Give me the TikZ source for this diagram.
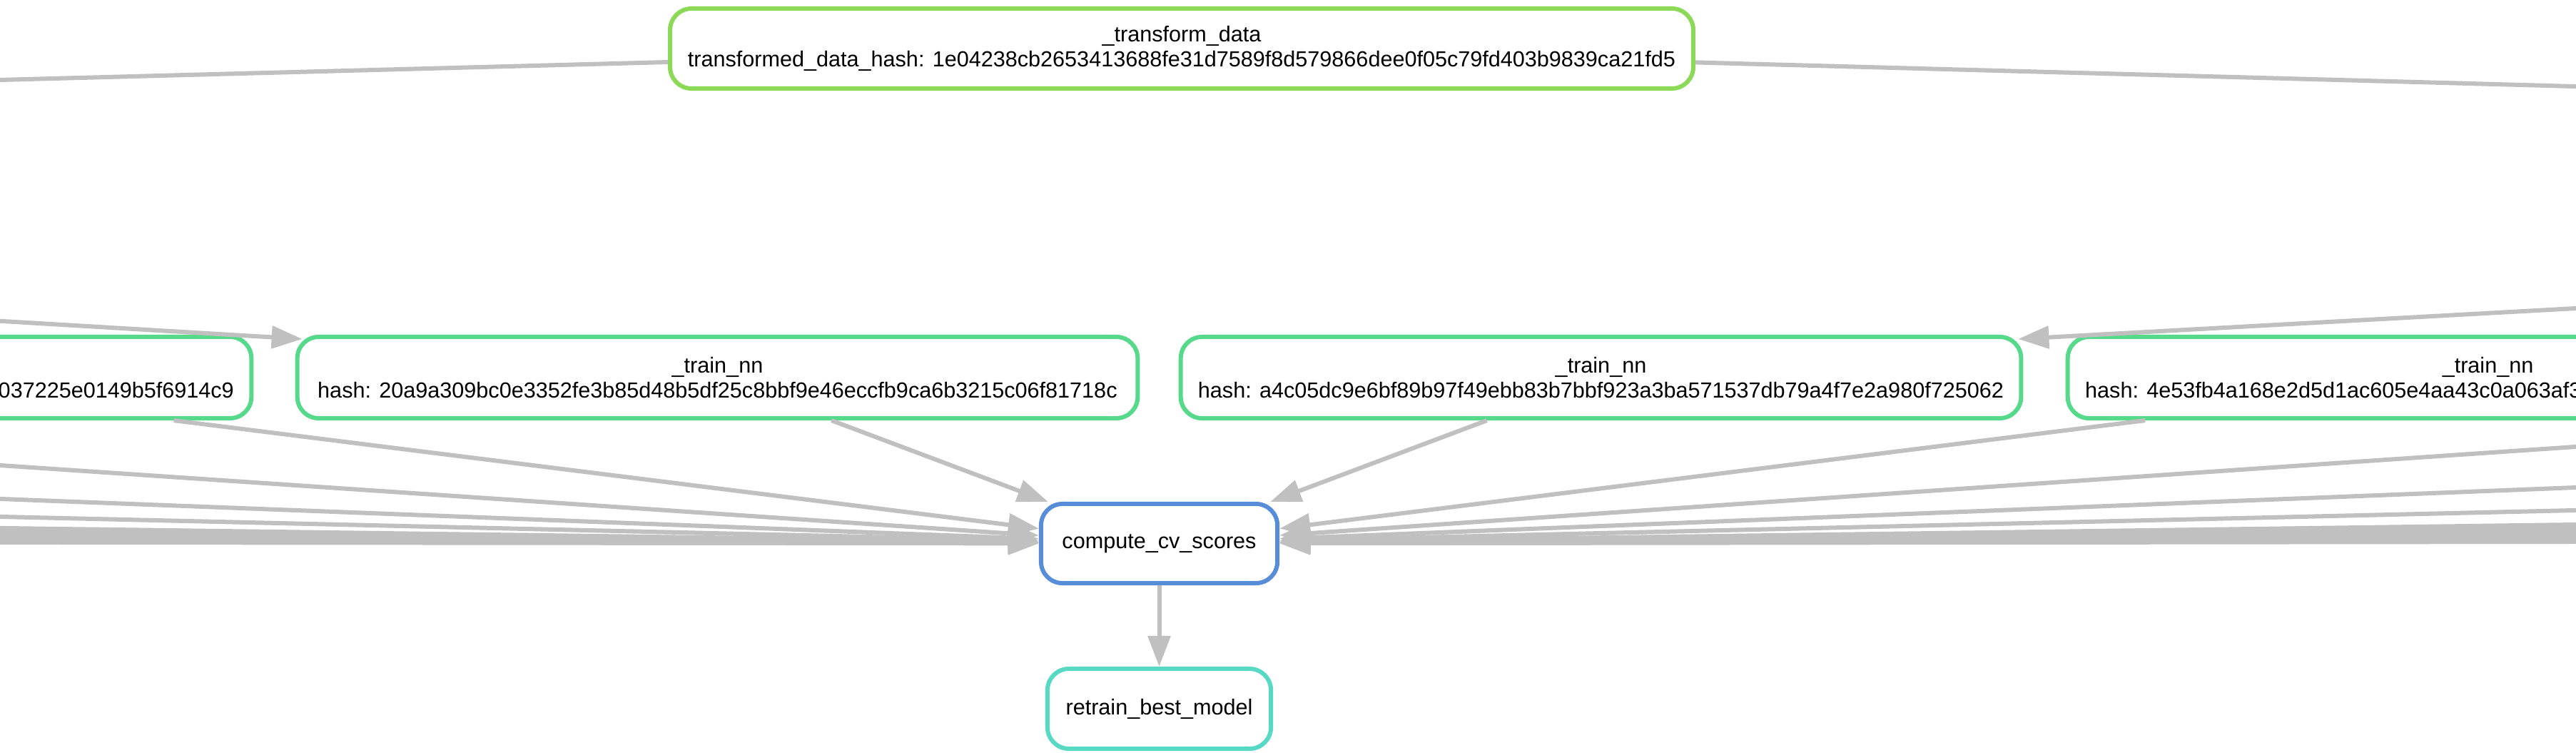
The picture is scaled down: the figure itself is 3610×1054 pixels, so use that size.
\documentclass[tikz,border=0pt]{standalone}
\usepackage{fontspec}
\setmainfont{Liberation Sans}
\usepackage{tikz}
\usetikzlibrary{arrows.meta,positioning}
\definecolor{edgecolor}{RGB}{192,192,192}
\definecolor{transformcolor}{RGB}{140,217,87}
\definecolor{traincolor}{RGB}{87,217,140}
\definecolor{cvcolor}{RGB}{87,140,217}
\definecolor{retraincolor}{RGB}{87,217,195}

\begin{document}
\begin{tikzpicture}[x=0.01cm, y=-0.01cm, >={Triangle[length=0.43cm, width=0.31cm]},
    rule/.style={draw, line width=0.06cm, rounded corners=0.3cm, fill=white, inner sep=0pt, align=center, font=\fontsize{8.7}{9.7}\selectfont},
    trainbox/.style={rule, draw=traincolor, minimum width=11.77cm, minimum height=1.14cm},
    edge/.style={->, draw=edgecolor, line width=0.06cm}]

    \useasboundingbox (0, 0) rectangle (3610, 1054);
    \fill[white] (0, 0) rectangle (3610, 1054);
    \clip (0, 0) rectangle (3610, 1054);

    % ═══════════════════════════════════════════════════════════════════════════
    % RULES
    % ═══════════════════════════════════════════════════════════════════════════

    \node[rule, draw=transformcolor, minimum width=14.33cm, minimum height=1.12cm] (tf) at (1656, 68)
        {\_transform\_data\\transformed\_data\_hash: 1e04238cb2653413688fe31d7589f8d579866dee0f05c79fd403b9839ca21fd5};

    \node[trainbox] (trainA) at (-236.5, 529) {\strut\\\makebox[11.28cm][r]{037225e0149b5f6914c9}};
    \node[trainbox] (trainB) at (1005.5, 529) {\_train\_nn\\hash: 20a9a309bc0e3352fe3b85d48b5df25c8bbf9e46eccfb9ca6b3215c06f81718c};
    \node[trainbox] (trainC) at (2243.5, 529) {\_train\_nn\\hash: a4c05dc9e6bf89b97f49ebb83b7bbf923a3ba571537db79a4f7e2a980f725062};
    \node[trainbox] (trainD) at (3486.5, 529) {\_train\_nn\\\makebox[11.28cm][l]{hash: 4e53fb4a168e2d5d1ac605e4aa43c0a063af3}};

    \node[rule, draw=cvcolor, minimum width=3.31cm, minimum height=1.11cm] (cv) at (1624.5, 761.5) {compute\_cv\_scores};
    \node[rule, draw=retraincolor, minimum width=3.13cm, minimum height=1.12cm] (retrain) at (1624.5, 993) {retrain\_best\_model};

    % ═══════════════════════════════════════════════════════════════════════════
    % EDGES
    % ═══════════════════════════════════════════════════════════════════════════

    % _transform_data -> rules outside the view
    \coordinate (tfleft) at (-300, 120);
    \coordinate (tfright) at (3900, 129);
    \draw[edge] (tf) -- (tfleft);
    \draw[edge] (tf) -- (tfright);

    % into the _train_nn boxes from outside
    \coordinate (srcB) at (-400, 426);
    \coordinate (srcC) at (4100, 405);
    \draw[edge] (srcB) -- ([shift={(10,6)}]trainB.north west);
    \draw[edge] (srcC) -- ([shift={(-7,6)}]trainC.north east);

    % _train_nn -> compute_cv_scores
    \foreach \t in {trainA, trainB, trainC, trainD} {
        \draw[edge] (\t) -- (cv);
    }

    % other _train_nn, left and right of the view
    \foreach \y [count=\i] in {631.7, 687.4, 717, 735.9, 740.7, 745.4, 750.2, 754.9, 759.6} {
        \coordinate (left\i) at (-300, \y);
        \draw[edge] (left\i) -- (cv);
    }
    \foreach \y [count=\i] in {606.1, 671.5, 708.1, 731.1, 735.6, 740.2, 744.8, 749.4, 754.0, 758.6} {
        \coordinate (right\i) at (3900, \y);
        \draw[edge] (right\i) -- (cv);
    }

    % compute_cv_scores -> retrain_best_model
    \draw[edge] (cv) -- (retrain);

\end{tikzpicture}
\end{document}
